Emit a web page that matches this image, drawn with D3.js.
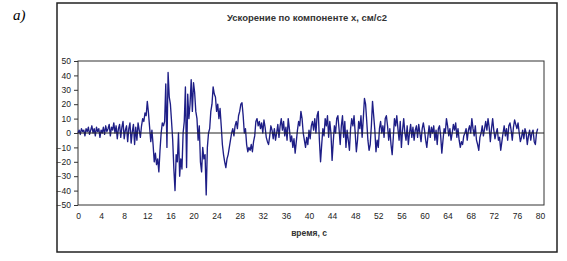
<!DOCTYPE html>
<html>
<head>
<meta charset="utf-8">
<script src="https://cdn.jsdelivr.net/npm/d3@7"></script>
<style>
  body { margin: 0; background: #fff; }
  svg { display: block; }
</style>
</head>
<body>
<svg id="chart" width="567" height="261"></svg>
<script>
// acceleration samples, 0.2 s step
var accel = [
  0, 2, -1, 3, 1,   2, -2, 3, 1, 4,   -1, 2, 5, 0, 3,   -2, 4, 1, 3, -3,
  2, 0, 4, -1, 5,   1, 3, 6, -2, 4,   2, 7, 0, 5, -4,   3, 6, -3, 4, 8,
  -4, 2, 5, -6, 3,  7, -7, 1, 6, -8,
  4, -5, 7, 2, -3,  5, 10, 8, 14, 12,
  22, 14, 4, -6, 2,  -8, -20, -14, -22, -18,  -27, -12, 0, 7, 5,
  8, 34, -10, 42, 25,  20, 8, -5, -25, -40,  -15, -20, 0, -30, -18,
  -25, 0, 8, 32, -24,  27, 10, 20, 37, 15,  35, 28, 15, 10, -5,
  5, -20, -27, -10, -18,  -15, -43, -10, 0, 3,  15, 20, 32, 27, 25,
  15, 20, 10, 17, 5,  -8, -15, -20, -24, -18,  -15, -10, -5, 0, 3,
  -2, 5, 8, 3, 12,
  15, 20, 21, 12, 0,  3, -8, -13, -10, -12,  -8, -13, -6, -2, 8,
  10, 5, 8, 3, 7,  0, 9, 4, -3, -6,  -8, -2, 5, 2, -4,
  3, -5, 0, 6, -3,  5, 10, 2, 8, -2,  4, -5, 10, 3, -6,
  -2, -10, -4, -14, -6,  2, 8, 5, 15, 10,  0, -5, -10, -3, -8,
  2, -4, 5, 8, 2,  10, 0, 12, 15, -5,  -20, -8, 3, -2, 10,
  5, 12, -3, 8, 0,  -19, -6, 5, 0, 10,  12, 3, -8, 5, 12,
  -3, 8, -10, 2, -5,  -12, 3, 10, 5, 12,  0, -13, -5, 8, 3,
  12, -3, 10, 24, 20,  8, -5, -12, -8, 5,  22, 12, 2, -13, -5,
  -10, 3, 8, 0, 5,  -3, 10, 12, 5, -5,  3, -8, -15, -3, 10,
  5, 12, 3, -5, 8,  -10, 2, 10, 0, -5,  5, -8, 0, 6, -3,
  4, -5, 2, 5, -3,  6, 0, -6, 3, 7,  2, -5, -10, -2, 5,
  -3, 4, 0, 5, -5,  2, -8, 3, 5, -2,  -14, -5, 3, 0, 10,
  5, -2, 3, -5, 0,  6, 2, 7, -3, 3,  -5, -10, -6, -8, -2,
  0, 3, -5, 2, 5,  0, 10, 3, -2, 5,  -5, -8, -12, -3, 0,
  5, -2, 3, 8, 2,  10, 4, -6, 3, 10,  2, -4, 0, 3, -5,
  -3, -12, -6, 0, 5,  -2, 3, -5, 5, 7,  2, -5, 4, 9, 6,
  3, 7, 0, -6, -3,  2, -4, 3, 0, -8,  -2, 2, -5, 0, 2,
  -6, -8, 0, 3
];
var timeStep = 0.2;
var xTicks = d3.range(0, 81, 4);
var yTicks = d3.range(-50, 51, 10);

var svg = d3.select("#chart");
var plot = { left: 78, top: 61, right: 544, bottom: 205 };

// outer frame
svg.append("rect")
  .attr("x", 57).attr("y", 3).attr("width", 500).attr("height", 249)
  .attr("fill", "none").attr("stroke", "#222").attr("stroke-width", 1.5);

svg.append("text")
  .attr("x", 13).attr("y", 20)
  .attr("font-family", "Liberation Serif, serif")
  .attr("font-style", "italic").attr("font-size", 15)
  .text("а)");

svg.append("text")
  .attr("x", 307).attr("y", 21).attr("text-anchor", "middle")
  .attr("font-family", "Liberation Sans, Arial, sans-serif")
  .attr("font-weight", "bold").attr("font-size", 9.5).attr("fill", "#333")
  .text("Ускорение по компоненте х, см/с2");

var x = d3.scaleLinear().domain([0, 80]).range([plot.left, 540]);
var y = d3.scaleLinear().domain([-50, 50]).range([plot.bottom, plot.top]);

// plot border
svg.append("rect")
  .attr("x", plot.left).attr("y", plot.top)
  .attr("width", plot.right - plot.left).attr("height", plot.bottom - plot.top)
  .attr("fill", "none").attr("stroke", "#333").attr("stroke-width", 1);

var yAxis = d3.axisLeft(y).tickValues(yTicks).tickSize(4).tickPadding(3);
var gy = svg.append("g").attr("transform", "translate(" + plot.left + ",0)").call(yAxis);
gy.select(".domain").remove();
gy.selectAll("line").attr("stroke", "#333");
gy.selectAll("text")
  .attr("font-family", "Liberation Sans, Arial, sans-serif")
  .attr("font-size", 8.5).attr("fill", "#222");

var xAxis = d3.axisBottom(x).tickValues(xTicks).tickSize(0).tickPadding(8);
var gx = svg.append("g").attr("transform", "translate(0," + plot.bottom + ")").call(xAxis);
gx.select(".domain").remove();
gx.selectAll("text")
  .attr("font-family", "Liberation Sans, Arial, sans-serif")
  .attr("font-size", 8.5).attr("fill", "#222");

svg.append("text")
  .attr("x", 309).attr("y", 236).attr("text-anchor", "middle")
  .attr("font-family", "Liberation Sans, Arial, sans-serif")
  .attr("font-weight", "bold").attr("font-size", 8.5).attr("fill", "#333")
  .text("время, с");

var line = d3.line()
  .x((d, i) => x(i * timeStep))
  .y(d => y(d));

svg.append("path")
  .datum(accel)
  .attr("d", line)
  .attr("fill", "none")
  .attr("stroke", "#1e1e86")
  .attr("stroke-width", 1.35)
  .attr("stroke-linejoin", "round");

// zero line drawn over the series
svg.append("line")
  .attr("x1", plot.left).attr("x2", plot.right)
  .attr("y1", y(0)).attr("y2", y(0))
  .attr("stroke", "#222").attr("stroke-width", 1);
</script>
</body>
</html>
